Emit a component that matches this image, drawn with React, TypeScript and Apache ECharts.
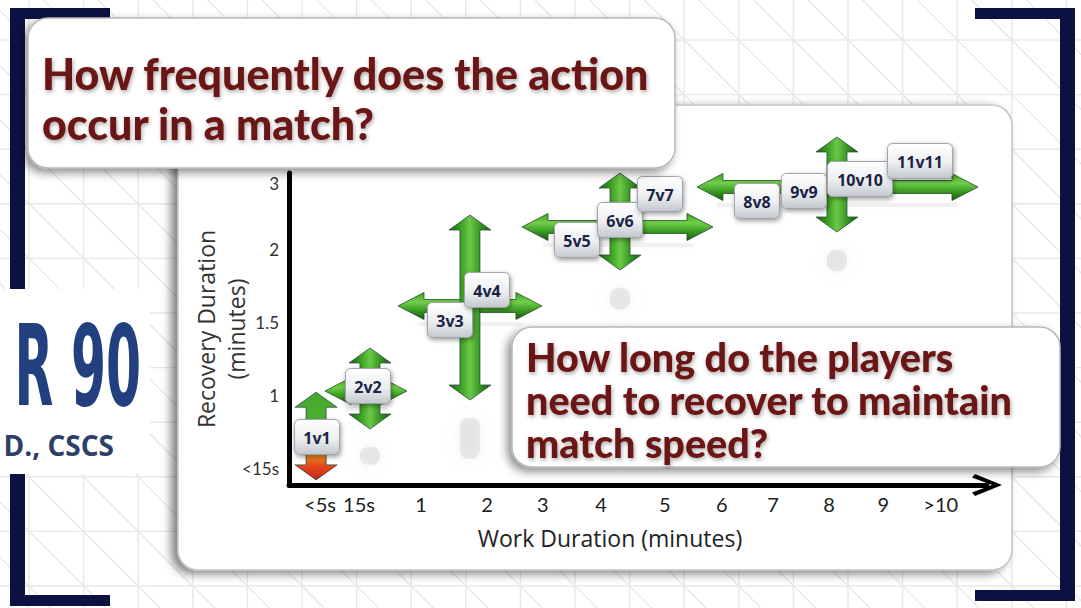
import React, { useEffect, useRef } from "react";
import * as echarts from "echarts";

// ---- axis ticks (positions in chart slot units) ----
const xTickLabels = ["<5s", "15s", "1", "2", "3", "4", "5", "6", "7", "8", "9", ">10"];
const xTickPos = [-0.05, 0.64, 1.74, 2.91, 3.9, 4.93, 6.06, 7.07, 7.98, 8.97, 9.93, 10.95];
const yTickLabels = ["<15s", "1", "1.5", "2", "3"];
const yTickPos = [0, 1, 2, 3, 3.9];

// ---- vertical arrows: recovery range ----
const vArrowX = [-0.12, 0.835, 2.607, 5.266, 9.111];
const vArrowFrom = [-0.15, 0.546, 0.943, 2.722, 3.242];
const vArrowTo = [1.05, 1.655, 3.475, 4.05, 4.543];
const vArrowTone = ["mixed", "green", "green", "green", "green"];

// ---- horizontal arrows: work range ----
const hArrowY = [1.066, 2.23, 3.311, 3.858];
const hArrowFrom = [0.038, 1.332, 3.529, 6.63];
const hArrowTo = [1.49, 3.883, 6.914, 11.61];

// ---- game labels ----
const gameLabels = ["1v1", "2v2", "3v3", "4v4", "5v5", "6v6", "7v7", "8v8", "9v9", "10v10", "11v11"];
const gameX = [-0.104, 0.8, 2.253, 2.909, 4.504, 5.266, 5.975, 7.693, 8.526, 9.519, 10.582];
const gameY = [0.437, 1.135, 2.038, 2.449, 3.133, 3.407, 3.763, 3.667, 3.804, 3.968, 4.214];

const LATO = "Lato, 'Open Sans', sans-serif";
const OPEN = "'Open Sans', Lato, sans-serif";

function nearest(arr: number[], v: number) {
  let b = 0;
  for (let i = 1; i < arr.length; i++) if (Math.abs(arr[i] - v) < Math.abs(arr[b] - v)) b = i;
  return b;
}

function buildBackground() {
  const els: any[] = [];
  const step = 54.6;
  const lineStyle = { stroke: "#e8e8e8", lineWidth: 1.4 };
  for (let x = 29; x < 1081; x += step)
    els.push({ type: "line", silent: true, z: -20, shape: { x1: x, y1: 0, x2: x, y2: 608 }, style: lineStyle });
  for (let y = 40 - step; y < 608; y += step)
    els.push({ type: "line", silent: true, z: -20, shape: { x1: 0, y1: y, x2: 1081, y2: y }, style: lineStyle });
  for (let d = -11 - 12 * step; d < 1081; d += step)
    els.push({ type: "line", silent: true, z: -20, shape: { x1: d, y1: 0, x2: d + 608, y2: 608 }, style: lineStyle });
  const navy = "#0b1140";
  const bars = [
    [10, 8, 100, 11], [10, 8, 15, 598], [10, 595, 100, 11],
    [975, 8, 100, 11], [1060, 8, 15, 592], [975, 590, 100, 11],
  ];
  bars.forEach((b) =>
    els.push({ type: "rect", silent: true, z: -19, shape: { x: b[0], y: b[1], width: b[2], height: b[3] }, style: { fill: navy } })
  );
  els.push({ type: "rect", silent: true, z: -18, shape: { x: 0, y: 289, width: 150, height: 185 }, style: { fill: "#ffffff" } });
  els.push({
    type: "text", silent: true, z: -17, x: 141, y: 366, scaleX: 0.5,
    style: {
      text: "R 90", x: 0, y: 0, align: "right", textAlign: "right", verticalAlign: "middle", textVerticalAlign: "middle",
      font: "bold 112px 'Liberation Sans Narrow', 'DejaVu Sans Condensed', sans-serif",
      fill: "#22407f",
    },
  });
  els.push({
    type: "text", silent: true, z: -17,
    style: {
      text: "D., CSCS", x: 114, y: 445, align: "right", textAlign: "right", verticalAlign: "middle", textVerticalAlign: "middle",
      font: "bold 28px 'Open Sans', sans-serif", fill: "#2b4068",
    },
  });
  // chart panel
  els.push({
    type: "rect", silent: true, z: -16,
    shape: { x: 178, y: 105, width: 834, height: 465, r: 20 },
    style: { fill: "#ffffff", stroke: "#c4c4c4", lineWidth: 1.5, shadowBlur: 10, shadowOffsetX: -6, shadowOffsetY: 3, shadowColor: "rgba(0,0,0,0.5)" },
  });
  return els;
}

function buildForeground() {
  const textShadow = { textShadowColor: "rgba(0,0,0,0.35)", textShadowBlur: 4, textShadowOffsetX: 1, textShadowOffsetY: 2 };
  const boxStyle = { fill: "#ffffff", stroke: "#b8b8b8", lineWidth: 1.5, shadowBlur: 10, shadowOffsetX: -4, shadowOffsetY: 4, shadowColor: "rgba(0,0,0,0.45)" };
  return [
    { type: "rect", silent: true, z: 50, shape: { x: 28, y: 18, width: 647, height: 150, r: 20 }, style: boxStyle },
    {
      type: "text", silent: true, z: 51,
      style: {
        text: "How frequently does the action\noccur in a match?", x: 42, y: 48, lineHeight: 50,
        align: "left", textAlign: "left", verticalAlign: "top", textVerticalAlign: "top",
        font: "900 43px " + LATO, fill: "#6b1313", ...textShadow,
      },
    },
    { type: "rect", silent: true, z: 50, shape: { x: 512, y: 327, width: 548, height: 140, r: 20 }, style: boxStyle },
    {
      type: "text", silent: true, z: 51,
      style: {
        text: "How long do the players\nneed to recover to maintain\nmatch speed?", x: 526, y: 335, lineHeight: 43,
        align: "left", textAlign: "left", verticalAlign: "top", textVerticalAlign: "top",
        font: "900 39.5px " + LATO, fill: "#6b1313", ...textShadow,
      },
    },
    {
      type: "text", silent: true, z: 10,
      style: {
        text: "Work Duration (minutes)", x: 610, y: 538, align: "center", textAlign: "center",
        verticalAlign: "middle", textVerticalAlign: "middle", font: "23px " + OPEN, fill: "#222222",
      },
    },
  ];
}

const greenV = {
  type: "linear", x: 0, y: 0, x2: 1, y2: 0,
  colorStops: [
    { offset: 0, color: "#1c6211" }, { offset: 0.3, color: "#3fa324" }, { offset: 0.5, color: "#6cc847" },
    { offset: 0.75, color: "#35941f" }, { offset: 1, color: "#175810" },
  ],
};
const greenH = {
  type: "linear", x: 0, y: 0, x2: 0, y2: 1,
  colorStops: [
    { offset: 0, color: "#3b9e24" }, { offset: 0.35, color: "#72cf4b" }, { offset: 0.6, color: "#43a72a" },
    { offset: 1, color: "#17560f" },
  ],
};
const mixedV = {
  type: "linear", x: 0, y: 0, x2: 0, y2: 1,
  colorStops: [
    { offset: 0, color: "#43a72a" }, { offset: 0.5, color: "#52b634" }, { offset: 0.68, color: "#f0a021" },
    { offset: 0.85, color: "#e6441b" }, { offset: 1, color: "#c2261a" },
  ],
};

function renderVArrow(params: any, api: any) {
  const i = params.dataIndex;
  const x = api.value(0);
  const pb = api.coord([x, api.value(1)]);
  const pt = api.coord([x, api.value(2)]);
  const cx = pb[0], top = pt[1], bot = pb[1];
  const sw = 20, hw = 42, hl = 15;
  const pts = [
    [cx, top], [cx + hw / 2, top + hl], [cx + sw / 2, top + hl], [cx + sw / 2, bot - hl], [cx + hw / 2, bot - hl],
    [cx, bot], [cx - hw / 2, bot - hl], [cx - sw / 2, bot - hl], [cx - sw / 2, top + hl], [cx - hw / 2, top + hl],
  ];
  const mixed = vArrowTone[i] === "mixed";
  const children: any[] = [];
  if (!mixed) {
    const len = bot - top;
    children.push({
      type: "rect",
      shape: { x: cx - 10, y: bot + 18, width: 20, height: Math.max(14, len * 0.22), r: 8 },
      style: { fill: "rgba(170,170,170,0.22)", shadowBlur: 14, shadowColor: "rgba(140,140,140,0.55)" },
    });
  }
  children.push({
    type: "polygon",
    shape: { points: pts },
    style: { fill: mixed ? mixedV : greenV, stroke: "#2b4f45", lineWidth: 0.8 },
  });
  return { type: "group", children };
}

function renderHArrow(params: any, api: any) {
  const y = api.value(0);
  const pl = api.coord([api.value(1), y]);
  const pr = api.coord([api.value(2), y]);
  const cy = pl[1], l = pl[0], r = pr[0];
  const sw = 13, hw = 27, hl = 26;
  const pts = [
    [l, cy], [l + hl, cy - hw / 2], [l + hl, cy - sw / 2], [r - hl, cy - sw / 2], [r - hl, cy - hw / 2],
    [r, cy], [r - hl, cy + hw / 2], [r - hl, cy + sw / 2], [l + hl, cy + sw / 2], [l + hl, cy + hw / 2],
  ];
  return {
    type: "group",
    children: [
      {
        type: "rect",
        shape: { x: l + 20, y: cy + 16, width: r - l - 40, height: 4, r: 2 },
        style: { fill: "rgba(170,170,170,0.14)", shadowBlur: 8, shadowColor: "rgba(150,150,150,0.35)" },
      },
      { type: "polygon", shape: { points: pts }, style: { fill: greenH, stroke: "#245224", lineWidth: 0.8 } },
    ],
  };
}

function renderLabel(params: any, api: any) {
  const p = api.coord([api.value(0), api.value(1)]);
  const label = gameLabels[params.dataIndex];
  const w = 15 + label.length * 10, h = 35;
  return {
    type: "group",
    children: [
      {
        type: "rect",
        shape: { x: p[0] - w / 2, y: p[1] - h / 2, width: w, height: h, r: 5 },
        style: {
          fill: {
            type: "linear", x: 0, y: 0, x2: 0, y2: 1,
            colorStops: [{ offset: 0, color: "#ffffff" }, { offset: 0.55, color: "#eceef1" }, { offset: 1, color: "#c3c7cd" }],
          },
          stroke: "#a0a4aa", lineWidth: 1, shadowBlur: 5, shadowOffsetX: 1, shadowOffsetY: 2, shadowColor: "rgba(0,0,0,0.4)",
        },
      },
      {
        type: "text",
        style: {
          text: label, x: p[0], y: p[1] + 1, align: "center", textAlign: "center", verticalAlign: "middle",
          textVerticalAlign: "middle", fill: "#1b2344", font: "bold 16px 'Open Sans', sans-serif",
        },
      },
    ],
  };
}

function buildOption(): any {
  return {
    animation: false,
    backgroundColor: "#ffffff",
    grid: { left: 289, right: 94, top: 173, bottom: 123, containLabel: false, outerBoundsMode: "none" },
    xAxis: {
      type: "value", min: -0.6, max: 11.77,
      splitLine: { show: false }, axisTick: { show: false },
      axisLine: {
        onZero: false,
        lineStyle: { color: "#000", width: 5 },
        symbol: ["none", "path://M11,0 L22,27 L18.5,30 L11,10 L3.5,30 L0,27 Z"],
        symbolSize: [22, 30],
      },
      axisLabel: {
        customValues: xTickPos, margin: 9, color: "#222", fontSize: 20, fontFamily: LATO,
        formatter: (v: number) => xTickLabels[nearest(xTickPos, v)],
      },
    },
    yAxis: {
      type: "value", min: -0.22, max: 4.05,
      splitLine: { show: false }, axisTick: { show: false },
      axisLine: { onZero: false, lineStyle: { color: "#000", width: 5 } },
      axisLabel: {
        customValues: yTickPos, margin: 10, color: "#333", fontSize: 17, fontFamily: LATO,
        formatter: (v: number) => yTickLabels[nearest(yTickPos, v)],
      },
      name: "Recovery Duration\n(minutes)",
      nameLocation: "middle", nameGap: 38, nameRotate: 90, nameMoveOverlap: false,
      nameTextStyle: { fontSize: 23, lineHeight: 30, color: "#333", fontFamily: OPEN },
    },
    graphic: [...buildBackground(), ...buildForeground()],
    series: [
      {
        type: "custom", name: "work", z: 3, clip: false, silent: true,
        renderItem: renderHArrow,
        data: hArrowY.map((y, i) => [y, hArrowFrom[i], hArrowTo[i]]),
        encode: { x: [1, 2], y: 0 },
      },
      {
        type: "custom", name: "recovery", z: 3, clip: false, silent: true,
        renderItem: renderVArrow,
        data: vArrowX.map((x, i) => [x, vArrowFrom[i], vArrowTo[i]]),
        encode: { x: 0, y: [1, 2] },
      },
      {
        type: "custom", name: "games", z: 4, clip: false, silent: true,
        renderItem: renderLabel,
        data: gameX.map((x, i) => [x, gameY[i]]),
        encode: { x: 0, y: 1 },
      },
    ],
  };
}

export default function App() {
  const ref = useRef<HTMLDivElement>(null);
  useEffect(() => {
    const chart = echarts.init(ref.current!, null, { renderer: "svg" });
    chart.setOption(buildOption());
    return () => chart.dispose();
  }, []);
  return (
    <div
      ref={ref}
      style={{ position: "fixed", left: 0, top: 0, width: 1081, height: 608, background: "#ffffff" }}
    />
  );
}
